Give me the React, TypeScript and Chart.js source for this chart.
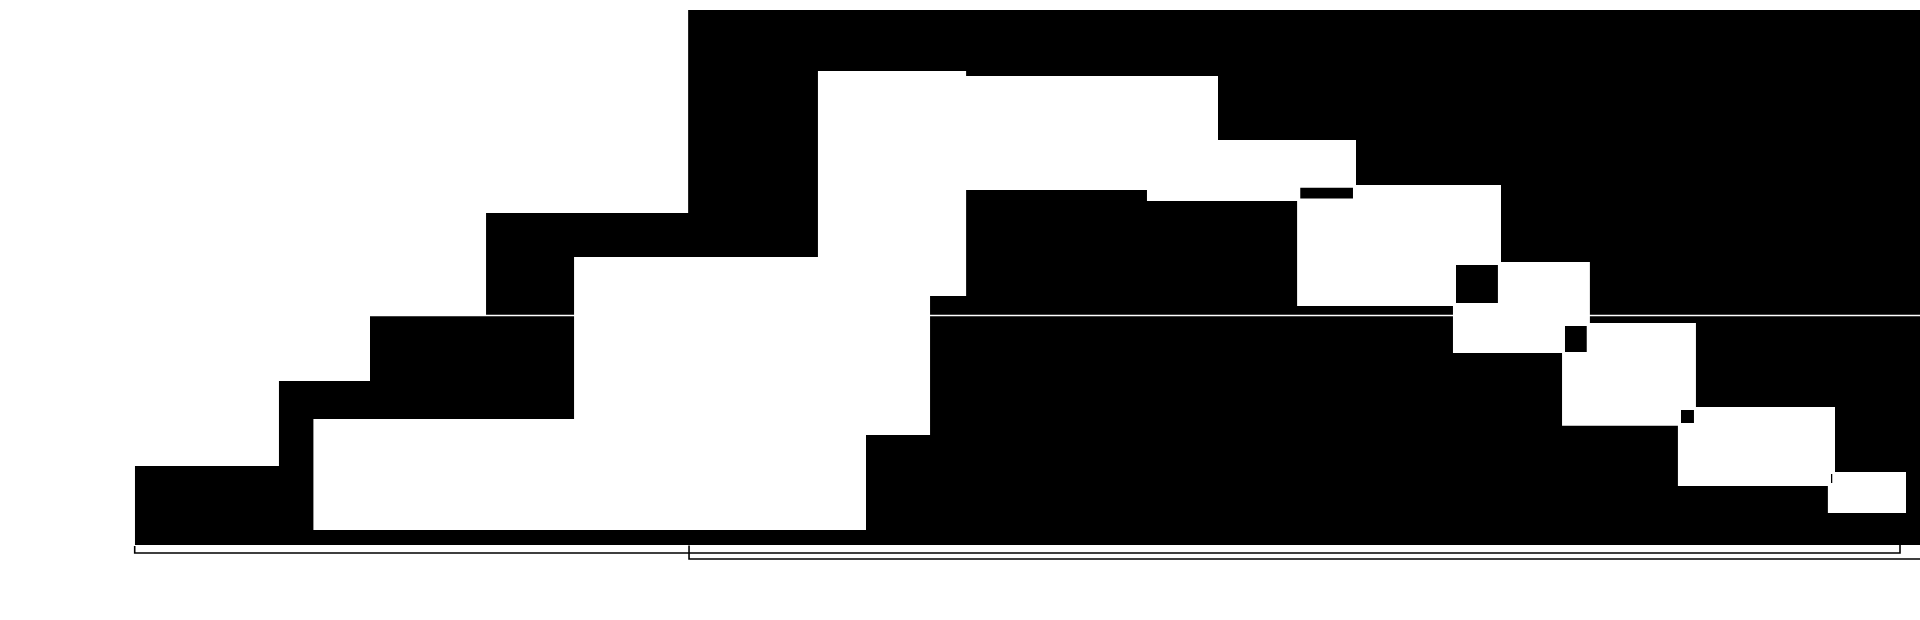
import { useEffect, useRef } from "react";
import { Chart, registerables } from "chart.js";

Chart.register(...registerables);

// rising front (dark)
const frontX = [0, 8.08, 13.18, 19.68, 31.0, 100];
const frontY = [14.77, 30.65, 42.8, 62.06, 100, 100];

// light band that rises and falls
const bandX = [10.0, 24.61, 38.27, 46.57, 60.68, 68.41, 76.53, 81.51, 87.45, 95.24, 99.22];
const bandY = [23.55, 53.83, 88.6, 87.66, 75.7, 67.29, 52.9, 41.5, 25.79, 13.64, 13.64];
const bandFloor = 2.8;

// dark ridge sitting inside the band
const ridgeX = [40.96, 44.55, 46.57, 56.7, 65.11, 73.84, 79.95, 86.44, 94.84, 99.22];
const ridgeY = [20.56, 46.54, 66.36, 64.3, 44.67, 35.89, 22.3, 11.03, 5.98, 5.98];

// small dark overlaps between the light steps
const overlapLeft = [65.28, 74.01, 80.11, 86.61, 95.01];
const overlapRight = [68.24, 76.36, 81.34, 87.34, 95.1];
const overlapTop = [66.79, 52.34, 40.93, 25.23, 13.27];
const overlapBottom = [64.77, 45.23, 36.07, 22.8, 11.59];

// divider across the dark mass
const dividerY = 42.9;

// two thin outlined ranges under the base line
const outlineAX = [0, 0, 98.88, 98.88];
const outlineAY = [-0.19, -1.5, -1.5, 0.37];
const outlineBX = [31.05, 31.05, 100];
const outlineBY = [-0.1, -2.62, -2.62];

const pts = (xs: number[], ys: number[]) => xs.map((x, i) => ({ x, y: ys[i] }));

const App = () => {
  const chartRef = useRef<HTMLCanvasElement>(null);
  const chartInstance = useRef<Chart | null>(null);

  useEffect(() => {
    if (!chartRef.current) return;
    if (chartInstance.current) chartInstance.current.destroy();
    const ctx = chartRef.current.getContext("2d");
    if (!ctx) return;

    const area = (data: { x: number; y: number }[], color: string, fill: any) => ({
      type: "line" as const,
      data,
      stepped: "before" as const,
      fill,
      backgroundColor: color,
      borderColor: "rgba(0,0,0,0)",
      borderWidth: 1,
      pointRadius: 0,
    });

    const stroke = (data: { x: number; y: number }[], color: string, width: number) => ({
      type: "line" as const,
      data,
      fill: false,
      borderColor: color,
      borderWidth: width,
      pointRadius: 0,
      clip: 4,
    });

    // painter's order: first is drawn first (bottom)
    const layers: any[] = [
      area(pts(frontX, frontY), "#000", "origin"),
      area(pts(bandX, bandY), "#fff", { value: bandFloor }),
      area(pts(ridgeX, ridgeY), "#000", "origin"),
      ...overlapLeft.map((l, i) =>
        area(pts([l, overlapRight[i]], [overlapTop[i], overlapTop[i]]), "#000", {
          value: overlapBottom[i],
        })
      ),
      stroke(pts([0, 100], [dividerY, dividerY]), "#fff", 1.5),
      stroke(pts(outlineAX, outlineAY), "#000", 1.6),
      stroke(pts(outlineBX, outlineBY), "#000", 1.6),
    ];
    layers.forEach((d, i) => (d.order = layers.length - i));

    chartInstance.current = new Chart(ctx, {
      type: "line",
      data: { datasets: layers },
      options: {
        responsive: true,
        maintainAspectRatio: false,
        animation: false,
        events: [],
        layout: { padding: { left: 134.7, top: 10, right: 0, bottom: 58.95 } },
        plugins: {
          legend: { display: false },
          tooltip: { enabled: false },
          filler: { drawTime: "beforeDatasetDraw" },
        },
        scales: {
          x: { type: "linear", min: 0, max: 100, display: false },
          y: { type: "linear", min: -3, max: 100, display: false },
        },
      },
    });

    return () => {
      if (chartInstance.current) {
        chartInstance.current.destroy();
        chartInstance.current = null;
      }
    };
  }, []);

  return (
    <div
      style={{
        position: "fixed",
        left: 0,
        top: 0,
        width: 1920,
        height: 620,
        background: "#fff",
      }}
    >
      <canvas ref={chartRef} role="img" aria-label="Stepped layered area chart"></canvas>
    </div>
  );
};

export default App;
